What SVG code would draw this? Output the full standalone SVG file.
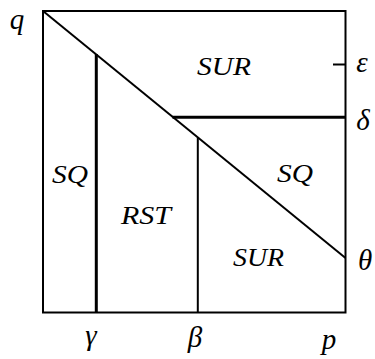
<svg xmlns="http://www.w3.org/2000/svg" width="375" height="359" viewBox="0 0 375 359">
<style>
.lbl{font-family:'Liberation Serif',serif !important;font-style:italic !important;font-size:26px}
.sym{font-family:'Liberation Serif',serif !important;font-style:italic !important;font-size:29px}
.thin{stroke:#000;stroke-width:2;fill:none}
.thick{stroke:#000;stroke-width:3;fill:none}
</style>
<rect width="375" height="359" fill="#fff"/>
<g id="connectors">
<rect class="thin" x="43" y="11" width="302.5" height="301.5"/>
<line class="thin" x1="43" y1="11" x2="345.5" y2="258"/>
<line class="thick" x1="96.3" y1="54" x2="96.3" y2="312.5"/>
<line class="thick" x1="172.5" y1="117.3" x2="345.5" y2="117.3"/>
<line class="thin" x1="197.8" y1="137.5" x2="197.8" y2="312.5"/>
<line class="thin" x1="333" y1="64.5" x2="345.5" y2="64.5"/>
</g>
<g id="region-sur-top"><text class="lbl" style="font-family:'Liberation Serif',serif !important;font-style:italic !important" x="197" y="75" textLength="54" lengthAdjust="spacingAndGlyphs">SUR</text></g>
<g id="region-sq-left"><text class="lbl" style="font-family:'Liberation Serif',serif !important;font-style:italic !important" x="52" y="183" textLength="36" lengthAdjust="spacingAndGlyphs">SQ</text></g>
<g id="region-rst"><text class="lbl" style="font-family:'Liberation Serif',serif !important;font-style:italic !important" x="121" y="224" textLength="50" lengthAdjust="spacingAndGlyphs">RST</text></g>
<g id="region-sq-right"><text class="lbl" style="font-family:'Liberation Serif',serif !important;font-style:italic !important" x="277" y="182" textLength="36" lengthAdjust="spacingAndGlyphs">SQ</text></g>
<g id="region-sur-bottom"><text class="lbl" style="font-family:'Liberation Serif',serif !important;font-style:italic !important" x="233" y="266" textLength="51" lengthAdjust="spacingAndGlyphs">SUR</text></g>
<g id="axis-labels">
<text class="sym" style="font-family:'Liberation Serif',serif !important;font-style:italic !important" x="17" y="29" text-anchor="middle">q</text>
<text class="sym" style="font-family:'Liberation Serif',serif !important;font-style:italic !important" x="362" y="72" text-anchor="middle">ε</text>
<text class="sym" style="font-family:'Liberation Serif',serif !important;font-style:italic !important" x="363" y="130" text-anchor="middle">δ</text>
<text class="sym" style="font-family:'Liberation Serif',serif !important;font-style:italic !important" x="365" y="270" text-anchor="middle">θ</text>
<text class="sym" style="font-family:'Liberation Serif',serif !important;font-style:italic !important" x="91" y="345" text-anchor="middle">γ</text>
<text class="sym" style="font-family:'Liberation Serif',serif !important;font-style:italic !important" x="195" y="347" text-anchor="middle">β</text>
<text class="sym" style="font-family:'Liberation Serif',serif !important;font-style:italic !important" x="329" y="349" text-anchor="middle">p</text>
</g>
</svg>
